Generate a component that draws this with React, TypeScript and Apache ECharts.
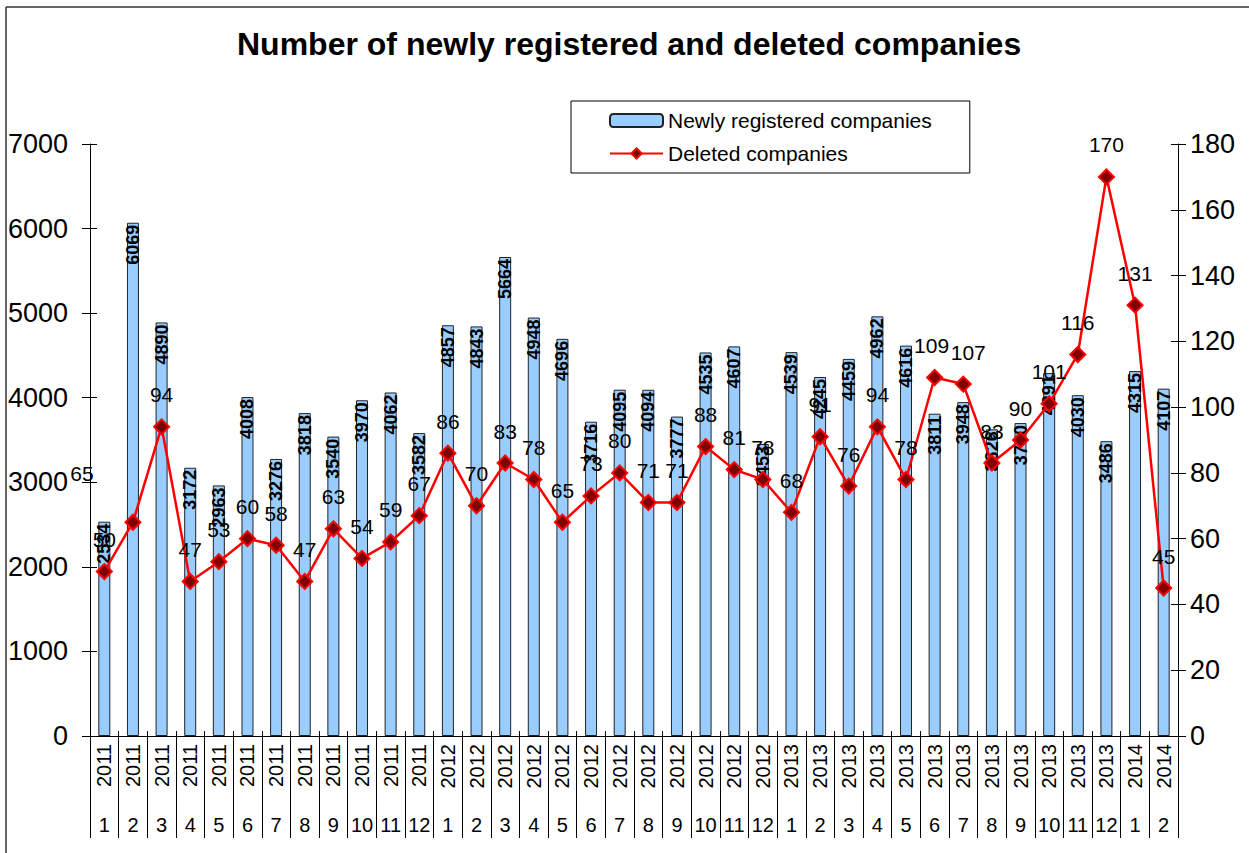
import React, { useEffect, useRef } from "react";
import * as echarts from "echarts";

const yearLabels = [
  "2011", "2011", "2011", "2011", "2011", "2011", "2011", "2011", "2011", "2011", "2011", "2011",
  "2012", "2012", "2012", "2012", "2012", "2012", "2012", "2012", "2012", "2012", "2012", "2012",
  "2013", "2013", "2013", "2013", "2013", "2013", "2013", "2013", "2013", "2013", "2013", "2013",
  "2014", "2014",
];
const monthLabels = [
  "1", "2", "3", "4", "5", "6", "7", "8", "9", "10", "11", "12",
  "1", "2", "3", "4", "5", "6", "7", "8", "9", "10", "11", "12",
  "1", "2", "3", "4", "5", "6", "7", "8", "9", "10", "11", "12",
  "1", "2",
];
const newlyRegistered = [
  2534, 6069, 4890, 3172, 2963, 4008, 3276, 3818, 3540, 3970, 4062, 3582,
  4857, 4843, 5664, 4948, 4696, 3716, 4095, 4094, 3777, 4535, 4607, 3453,
  4539, 4245, 4459, 4962, 4616, 3811, 3948, 3626, 3700, 4291, 4030, 3486,
  4315, 4107,
];
const deleted = [
  50, 65, 94, 47, 53, 60, 58, 47, 63, 54, 59, 67,
  86, 70, 83, 78, 65, 73, 80, 71, 71, 88, 81, 78,
  68, 91, 76, 94, 78, 109, 107, 83, 90, 101, 116, 170,
  131, 45,
];

const FONT = "'Liberation Sans', Arial, sans-serif";

export default function App() {
  const ref = useRef<HTMLDivElement>(null);
  useEffect(() => {
    if (!ref.current) return;
    const chart = echarts.init(ref.current, null, { renderer: "svg" });
    const leftAxisBase = {
      type: "value",
      min: 0,
      max: 7000,
      interval: 1000,
      splitLine: { show: false },
    };
    const rightAxisBase = {
      type: "value",
      min: 0,
      max: 180,
      interval: 20,
      splitLine: { show: false },
    };
    const labelOffsets: Record<number, [number, number]> = {
      1: [-51, -17],
      29: [-3, 0],
      30: [5, 0],
    };
    chart.setOption({
      animation: false,
      backgroundColor: "#ffffff",
      textStyle: { fontFamily: FONT },
      title: {
        text: "Number of newly registered and deleted companies",
        left: 232,
        top: 23,
        textStyle: { fontFamily: FONT, fontSize: 32, fontWeight: "bold", color: "#000" },
      },
      legend: {
        orient: "vertical",
        left: 571,
        top: 101,
        padding: [9, 38, 9, 38],
        itemWidth: 53,
        itemHeight: 13,
        itemGap: 12,
        borderColor: "#000",
        borderWidth: 1,
        textStyle: { fontFamily: FONT, fontSize: 21, color: "#000" },
        data: ["Newly registered companies", "Deleted companies"],
      },
      grid: { left: 90, right: 71, top: 144, bottom: 117 },
      graphic: [
        { type: "line", shape: { x1: 6, y1: 7, x2: 1249, y2: 7 }, style: { stroke: "#333", lineWidth: 1.5 } },
        { type: "line", shape: { x1: 6, y1: 7, x2: 6, y2: 853 }, style: { stroke: "#333", lineWidth: 1.5 } },
      ],
      xAxis: [
        {
          type: "category",
          position: "bottom",
          data: yearLabels,
          axisLine: { lineStyle: { color: "#000", width: 1 } },
          axisTick: { show: true, interval: 0, length: 102, lineStyle: { color: "#000" } },
          axisLabel: {
            interval: 0,
            rotate: 90,
            margin: 8,
            fontSize: 20,
            color: "#000",
            fontFamily: FONT,
          },
        },
        {
          type: "category",
          position: "bottom",
          data: monthLabels,
          axisLine: { show: false },
          axisTick: { show: false },
          axisLabel: {
            interval: 0,
            margin: 79,
            fontSize: 20,
            color: "#000",
            fontFamily: FONT,
          },
        },
        {
          type: "category",
          position: "bottom",
          data: monthLabels,
          axisLine: { show: false },
          axisTick: { show: true, inside: true, interval: 0, length: 5, lineStyle: { color: "#000" } },
          axisLabel: { show: false },
        },
      ],
      yAxis: [
        {
          ...leftAxisBase,
          position: "left",
          axisLine: { show: true, lineStyle: { color: "#000" } },
          axisTick: { show: true, length: 8, lineStyle: { color: "#000" } },
          axisLabel: {
            margin: 22,
            fontSize: 27,
            color: "#000",
            fontFamily: FONT,
            formatter: (v: number) => String(v),
          },
        },
        {
          ...rightAxisBase,
          position: "right",
          axisLine: { show: true, lineStyle: { color: "#000" } },
          axisTick: { show: true, length: 8, lineStyle: { color: "#000" } },
          axisLabel: {
            margin: 12,
            fontSize: 27,
            color: "#000",
            fontFamily: FONT,
            formatter: (v: number) => String(v),
          },
        },
        {
          ...leftAxisBase,
          position: "left",
          axisLine: { show: false },
          axisTick: { show: true, inside: true, length: 7, lineStyle: { color: "#000" } },
          axisLabel: { show: false },
        },
        {
          ...rightAxisBase,
          position: "right",
          axisLine: { show: false },
          axisTick: { show: true, inside: true, length: 7, lineStyle: { color: "#000" } },
          axisLabel: { show: false },
        },
      ],
      series: [
        {
          name: "Newly registered companies",
          type: "bar",
          xAxisIndex: 0,
          yAxisIndex: 0,
          data: newlyRegistered,
          barWidth: 12,
          itemStyle: { color: "#99CCFF", borderColor: "#222", borderWidth: 1 },
          label: {
            show: true,
            position: "insideTop",
            rotate: 90,
            align: "right",
            verticalAlign: "middle",
            distance: 2,
            fontSize: 18,
            fontWeight: "bold",
            color: "#000",
            fontFamily: FONT,
          },
          z: 2,
        },
        {
          name: "Deleted companies",
          type: "line",
          xAxisIndex: 0,
          yAxisIndex: 1,
          data: deleted.map((v, i) =>
            labelOffsets[i] ? { value: v, label: { offset: labelOffsets[i] } } : v
          ),
          symbol: "diamond",
          symbolSize: 15,
          lineStyle: { color: "#FF0000", width: 2.5 },
          itemStyle: { color: "#800000", borderColor: "#FF0000", borderWidth: 2 },
          label: {
            show: true,
            position: "top",
            distance: 13,
            fontSize: 21,
            color: "#000",
            fontFamily: FONT,
          },
          z: 3,
        },
      ],
    });
    return () => chart.dispose();
  }, []);
  return (
    <div
      ref={ref}
      style={{ position: "absolute", left: 0, top: 0, width: 1249, height: 853, background: "#fff" }}
    />
  );
}
